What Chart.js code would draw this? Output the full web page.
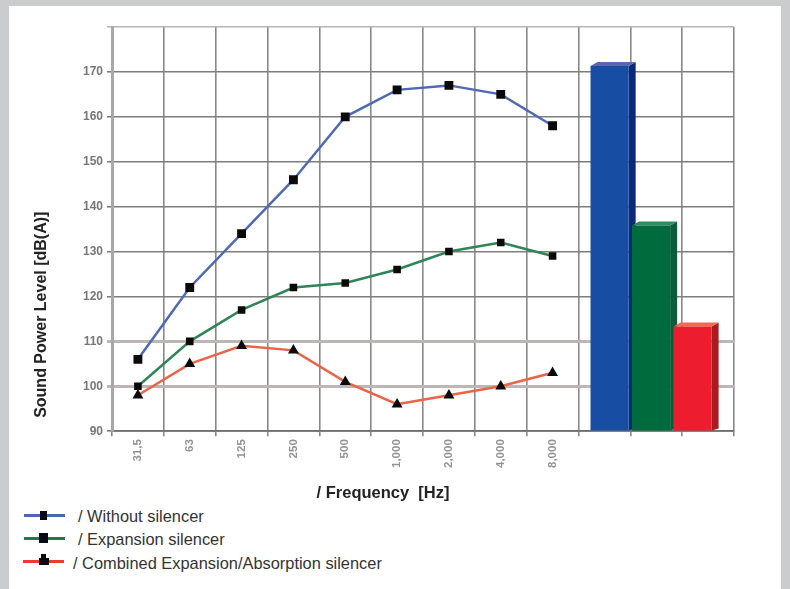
<!DOCTYPE html>
<html><head><meta charset="utf-8">
<style>
html,body{margin:0;padding:0;background:#cbcccd;width:790px;height:589px;overflow:hidden;font-family:"Liberation Sans",Arial,sans-serif}
#panel{position:absolute;left:9px;top:6px;width:772px;height:583px;background:#fff}
#wrap{position:absolute;left:0;top:0;width:770px;height:505px}
canvas{display:block}
.leg{position:absolute;font-size:16.4px;color:#333;line-height:16px;white-space:nowrap}
.sw{position:absolute;height:3px}
.mk{position:absolute;background:#0a0a14}
</style>
<script src="https://cdn.jsdelivr.net/npm/chart.js@4"></script>
</head><body>
<div id="panel"></div>
<div id="wrap"><canvas id="c" width="770" height="505"></canvas></div>
<div class="sw" style="left:24px;top:514px;width:41px;background:#4a66b4"></div>
<div class="mk" style="left:40px;top:511px;width:7px;height:9px"></div>
<div class="leg" style="left:78px;top:508px">/ Without silencer</div>
<div class="sw" style="left:24px;top:537px;width:41px;background:#1f7a4a"></div>
<div class="mk" style="left:39px;top:533px;width:9px;height:10px"></div>
<div class="leg" style="left:78px;top:531px">/ Expansion silencer</div>
<div class="sw" style="left:23px;top:560px;width:41px;background:#ee3b2e"></div>
<div class="mk" style="left:39px;top:558px;width:10px;height:7px"></div>
<div class="mk" style="left:41px;top:554px;width:5px;height:5px"></div>
<div class="leg" style="left:73px;top:555px">/ Combined Expansion/Absorption silencer</div>
<script>
const categories = ['31,5','63','125','250','500','1,000','2,000','4,000','8,000','','',''];
const withoutSilencer = [106,122,134,146,160,166,167,165,158];
const expansionSilencer = [100,110,117,122,123,126,130,132,129];
const combinedSilencer = [98,105,109,108,101,96,98,100,103];
const overallLabels = ['Without silencer','Expansion silencer','Combined Expansion/Absorption silencer'];
const overallValues = [171.3,135.8,113.3];
const yTitle = 'Sound Power Level [dB(A)]';
const xTitle = '/ Frequency  [Hz]';

const barSlots = [...Array(12).fill(' ').map((s,i)=>s.repeat(i+1)), ...overallLabels, ''];
const barData = [...Array(12).fill(null), ...overallValues, null];
const fronts = ['#174ea3','#006b3c','#ed1c2e'];
const sides  = ['#0c2a78','#0b5c3a','#a81c20'];
const tops   = ['#5a68b4','#2f8c60','#ee6a50'];

const bars3d = {
  id:'bars3d',
  beforeDatasetDraw(chart,args){
    if(args.index!==0) return;
    const ctx=chart.ctx, dx=7, dy=4;
    let k=0;
    args.meta.data.forEach((el,i)=>{
      if(barData[i]===null) return;
      const p=el.getProps(['x','y','base','width'],true);
      const r=p.x+p.width/2, l=p.x-p.width/2;
      ctx.save();
      ctx.fillStyle=sides[k];
      ctx.beginPath();ctx.moveTo(r,p.y);ctx.lineTo(r+dx,p.y-dy);ctx.lineTo(r+dx,p.base-dy+2);ctx.lineTo(r,p.base);ctx.closePath();ctx.fill();
      ctx.fillStyle=tops[k];
      ctx.beginPath();ctx.moveTo(l,p.y);ctx.lineTo(l+dx,p.y-dy);ctx.lineTo(r+dx,p.y-dy);ctx.lineTo(r,p.y);ctx.closePath();ctx.fill();
      ctx.restore();
      k++;
    });
  }
};

function lineDs(label,data,color,style,size){
  return {type:'line',label,data,xAxisID:'x',yAxisID:'y',borderColor:color,borderWidth:2.5,
    pointStyle:style,pointRadius:size,pointBackgroundColor:'#0a0a0a',pointBorderColor:'#0a0a0a',
    tension:0,fill:false,spanGaps:false,order:1};
}
new Chart(document.getElementById('c'),{
  data:{labels:categories,datasets:[
    {type:'bar',label:'Overall',data:barData,xAxisID:'x2',yAxisID:'y',base:90,grouped:false,categoryPercentage:1,barPercentage:0.92,
     backgroundColor:[...Array(12).fill('#000'),...fronts,'#000'],order:2},
    lineDs('Without silencer',withoutSilencer,'#4f6ab5','rect',4.5),
    lineDs('Expansion silencer',expansionSilencer,'#2f8556','rect',3.6),
    lineDs('Combined Expansion/Absorption silencer',combinedSilencer,'#ea6448','triangle',3.8)
  ]},
  plugins:[bars3d],
  options:{
    responsive:false,animation:false,devicePixelRatio:1,
    layout:{padding:{left:32,right:36,top:27,bottom:0}},
    plugins:{
      legend:{display:false},tooltip:{enabled:false},
      title:{display:true,position:'bottom',text:xTitle,color:'#222',font:{family:'"Liberation Sans"',size:16.5,weight:'bold'},padding:{top:7.5,bottom:1.5}}
    },
    scales:{
      x:{type:'category',offset:true,
        grid:{offset:true,color:'#8a8888',lineWidth:1.6,tickLength:5},
        border:{color:'#6e6c6c',width:1.8},
        ticks:{maxRotation:90,minRotation:90,autoSkip:false,color:'#929292',padding:3,font:{family:'"Liberation Sans"',size:11.5,weight:'bold'}},
        afterFit(s){s.height=45;}
      },
      x2:{type:'category',labels:barSlots,offset:false,display:false},
      y:{type:'linear',min:90,max:180,
        grid:{tickLength:5,lineWidth:c=>[100,110].includes(c.tick&&c.tick.value)?3:(c.tick&&c.tick.value===180?1.5:1.6),
          color:c=>{const v=c.tick&&c.tick.value;return [100,110].includes(v)?'#bdb6b6':(v===180?'#b5b5b5':'#7f7d7d');}},
        border:{color:'#a8a8a8',width:3},
        ticks:{stepSize:10,color:'#777',padding:4,font:{family:'"Liberation Sans"',size:12,weight:'bold'},callback:v=>v===180?'':String(v)},
        title:{display:true,align:'start',text:'   '+yTitle,color:'#222',font:{family:'"Liberation Sans"',size:16,weight:'bold'},padding:{top:0,bottom:0}},
        afterFit(s){s.width=80;}
      }
    }
  }
});
</script>
</body></html>
